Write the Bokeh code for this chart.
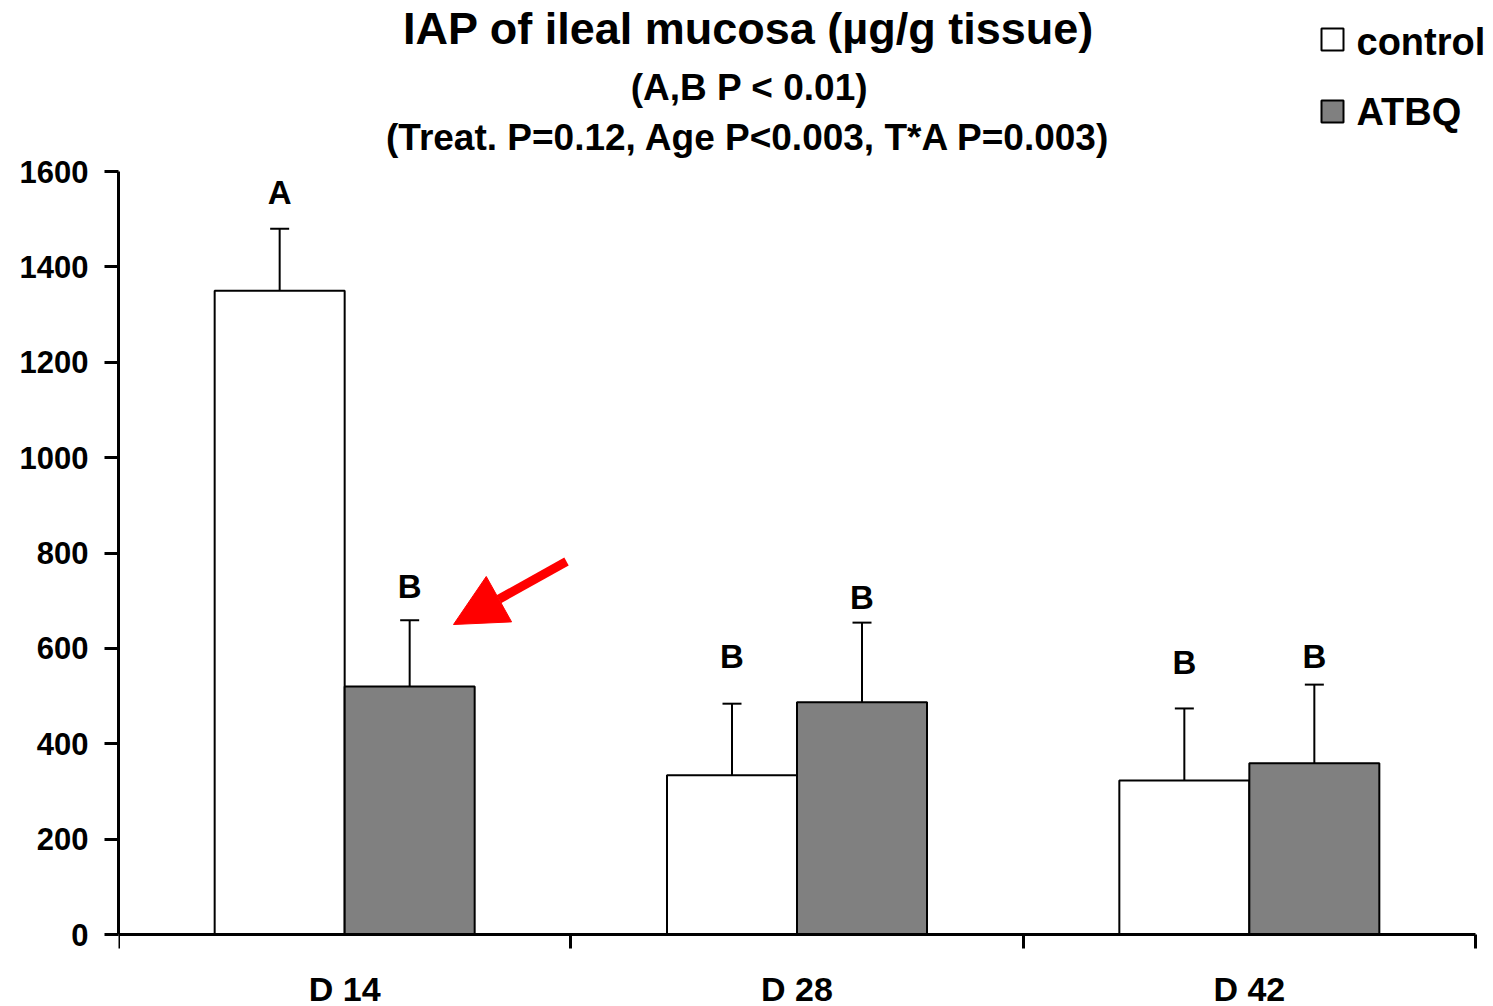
import numpy as np
from bokeh.plotting import figure
from bokeh.models import Range1d, FixedTicker, LinearAxis, Arrow, NormalHead
from bokeh.core.properties import value
from bokeh.embed import file_html
from bokeh.resources import INLINE

# ---------------- data ----------------
categories = ["D 14", "D 28", "D 42"]
series_names = ["control", "ATBQ"]
control = [1350, 334, 323]
control_upper = [1480, 484, 474]      # top of error bar
atbq = [520, 487, 359]
atbq_upper = [659, 654, 524]          # top of error bar
control_letters = ["A", "B", "B"]
atbq_letters = ["B", "B", "B"]
control_letter_y = [1556, 583, 570]
atbq_letter_y = [730, 707, 583]
y_ticks = [0, 200, 400, 600, 800, 1000, 1200, 1400, 1600]
title = "IAP of ileal mucosa (\u00b5g/g tissue)"
subtitle1 = "(A,B P < 0.01)"
subtitle2 = "(Treat. P=0.12, Age P<0.003, T*A P=0.003)"

# ---------------- layout ----------------
W, H = 1493, 1006
LEFT = 118
AXIS_RIGHT_PX, AXIS_TOP_PX, AXIS_BOTTOM_PX = 1475, 171, 934
XS = (AXIS_RIGHT_PX - LEFT) / len(categories)              # px per category
YS = (AXIS_BOTTOM_PX - AXIS_TOP_PX) / y_ticks[-1]           # px per unit

def X(px):
    return (px - LEFT) / XS

def Y(py):
    return (AXIS_BOTTOM_PX - py) / YS

FONT = value("Liberation Sans")
GRAY = "#808080"

p = figure(width=W, height=H, output_backend="svg", toolbar_location=None,
           title=None, x_axis_type=None, y_axis_type=None,
           x_range=Range1d(0, (W - LEFT) / XS), y_range=Range1d(Y(H), Y(0)),
           min_border_left=LEFT, min_border_right=0, min_border_top=0,
           min_border_bottom=0)
p.outline_line_color = None
p.background_fill_color = "white"
p.border_fill_color = "white"

yaxis = LinearAxis(ticker=FixedTicker(ticks=y_ticks), bounds=(0, y_ticks[-1]),
                   axis_line_width=3, axis_line_color="black",
                   major_tick_line_width=3, major_tick_out=14, major_tick_in=0,
                   minor_tick_out=0, minor_tick_in=0,
                   major_label_text_font="Liberation Sans",
                   major_label_text_font_size="31px",
                   major_label_text_font_style="bold",
                   major_label_text_color="black",
                   major_label_standoff=16)
p.add_layout(yaxis, "left")

centers = [i + 0.5 for i in range(len(categories))]
xaxis = LinearAxis(ticker=FixedTicker(ticks=centers,
                                      minor_ticks=list(range(len(categories) + 1))),
                   bounds=(0, len(categories)), fixed_location=0,
                   major_label_overrides={c: lab for c, lab in zip(centers, categories)},
                   axis_line_width=3, axis_line_color="black",
                   major_tick_out=0, major_tick_in=0,
                   minor_tick_out=14, minor_tick_in=0, minor_tick_line_width=3,
                   minor_tick_line_color="black",
                   major_label_text_font="Liberation Sans",
                   major_label_text_font_size="34px",
                   major_label_text_font_style="bold",
                   major_label_text_color="black",
                   major_label_standoff=21)
p.add_layout(xaxis, "below")

# ---------------- bars ----------------
w = 130 / XS
cx = np.array(centers) - w / 2
ax = np.array(centers) + w / 2

p.vbar(x=cx, top=control, bottom=0, width=w, fill_color="white",
       line_color="black", line_width=2)
p.vbar(x=ax, top=atbq, bottom=0, width=w, fill_color=GRAY,
       line_color="black", line_width=2)

# error bars (upper only)
p.segment(x0=cx, y0=control, x1=cx, y1=control_upper, line_color="black", line_width=2)
p.segment(x0=ax, y0=atbq, x1=ax, y1=atbq_upper, line_color="black", line_width=2)
p.scatter(x=cx, y=control_upper, marker="dash", size=19, line_color="black", line_width=2)
p.scatter(x=ax, y=atbq_upper, marker="dash", size=19, line_color="black", line_width=2)

# significance letters
p.text(x=cx, y=control_letter_y, text=control_letters, text_font=FONT,
       text_font_size="33px", text_font_style="bold", text_color="black",
       text_align="center", text_baseline="middle")
p.text(x=ax, y=atbq_letter_y, text=atbq_letters, text_font=FONT,
       text_font_size="33px", text_font_style="bold", text_color="black",
       text_align="center", text_baseline="middle")

# titles
p.text(x=[X(748)], y=[Y(28)], text=[title], text_font=FONT, text_font_size="45px",
       text_font_style="bold", text_color="black", text_align="center",
       text_baseline="middle")
p.text(x=[X(749), X(748)], y=[Y(87), Y(137)], text=[subtitle1, subtitle2],
       text_font=FONT, text_font_size="37px", text_font_style="bold",
       text_color="black", text_align="center", text_baseline="middle")

# legend
p.scatter(x=[X(1332), X(1332)], y=[Y(39), Y(111)], marker="square", size=22,
          fill_color=["white", GRAY], line_color="black", line_width=2)
p.text(x=[X(1356), X(1356)], y=[Y(41), Y(111)], text=series_names, text_font=FONT,
       text_font_size="38px", text_font_style="bold", text_color="black",
       text_align="left", text_baseline="middle")

# red arrow
p.add_layout(Arrow(end=NormalHead(size=52, fill_color="red", line_color="red", line_width=1),
                   x_start=X(566), y_start=Y(561), x_end=X(453), y_end=Y(624),
                   line_color="red", line_width=9))

open("out.html", "w").write(file_html(p, INLINE))
